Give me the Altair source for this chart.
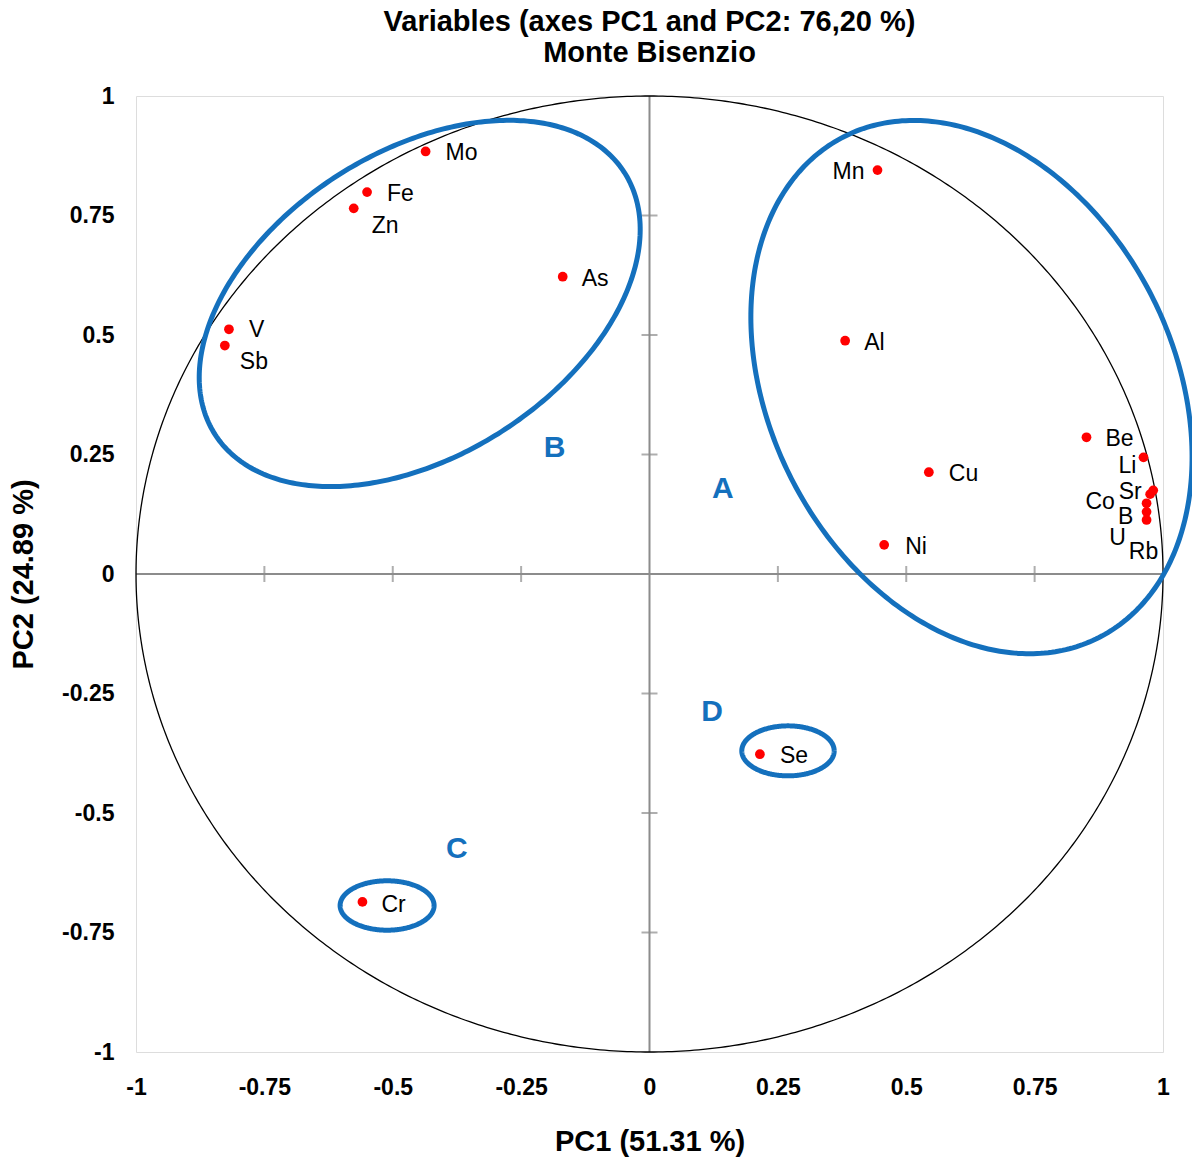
import altair as alt
import pandas as pd
import numpy as np

# ---------------- data ----------------
names = ["Mo", "Fe", "Zn", "As", "V", "Sb", "Mn", "Al", "Cu", "Ni",
         "Be", "Li", "Sr", "Co", "B", "U", "Rb", "Se", "Cr"]
pc1 = [-0.436, -0.550, -0.576, -0.169, -0.819, -0.827, 0.444, 0.381, 0.544, 0.457,
       0.851, 0.962, 0.981, 0.975, 0.968, 0.968, 0.968, 0.215, -0.559]
pc2 = [0.884, 0.799, 0.765, 0.622, 0.512, 0.478, 0.845, 0.488, 0.213, 0.061,
       0.286, 0.244, 0.175, 0.167, 0.148, 0.130, 0.113, -0.377, -0.686]

group_names = ["A", "B", "C", "D"]
group_x = [0.143, -0.185, -0.375, 0.122]
group_y = [0.178, 0.264, -0.575, -0.289]

tick_values = [-1, -0.75, -0.5, -0.25, 0, 0.25, 0.5, 0.75, 1]
inner_ticks = [-0.75, -0.5, -0.25, 0.25, 0.5, 0.75]

TITLE = ["Variables (axes PC1 and PC2: 76,20 %)", "Monte Bisenzio"]
X_TITLE = "PC1 (51.31 %)"
Y_TITLE = "PC2 (24.89 %)"

# ---------------- styling ----------------
W, H = 1027, 956
FONT = "Liberation Sans, Arial, Helvetica, sans-serif"
BLUE = "#1470bd"
GRAY = "#8c8c8c"

# label placement (pixel offsets, alignment)
label_style = {
    "Mo": (20, 2, "left"), "Fe": (20, 2, "left"), "Zn": (18, 18, "left"),
    "As": (19, 2, "left"), "V": (20, 1, "left"), "Sb": (15, 16, "left"),
    "Mn": (-13, 2, "right"), "Al": (19, 2, "left"), "Cu": (20, 2, "left"),
    "Ni": (21, 2, "left"), "Be": (19, 2, "left"), "Li": (-16, 9, "center"),
    "Sr": (-23, 2, "center"), "Co": (-50, 8, "center"), "B": (-21, 14, "center"),
    "U": (-29, 26, "center"), "Rb": (-3, 32, "center"), "Se": (20, 2, "left"),
    "Cr": (19, 3, "left"),
}

# ellipse outlines: centre (data units), semi-axes (px), rotation (deg, screen)
ellipse_params = {
    "A": (0.627, 0.391, 281, 202, 63.0),
    "B": (-0.4475, 0.566, 243, 152, -32.6),
    "C": (-0.511, -0.6935, 47, 24.7, 0.0),
    "D": (0.2697, -0.370, 46.2, 25, 0.0),
}

xscale = alt.Scale(domain=[-1, 1], nice=False, zero=False)
yscale = alt.Scale(domain=[-1, 1], nice=False, zero=False)

common_axis = dict(values=tick_values, grid=False, ticks=False, domain=False, tickSize=0,
                   labelFontSize=23, labelFont=FONT, labelFontWeight="bold",
                   labelColor="black", titleFont=FONT, titleFontSize=29,
                   titleFontWeight="bold", titleColor="black", titleBaseline="middle",
                   labelFlush=False, labelOverlap=False, labelExpr="'' + datum.value")
xaxis = alt.Axis(title=X_TITLE, labelPadding=24, titleY=89, **common_axis)
yaxis = alt.Axis(title=Y_TITLE, labelPadding=22, titleX=-113, **common_axis)


def X(field):
    return alt.X(field, type="quantitative", scale=xscale, axis=xaxis)


def Y(field):
    return alt.Y(field, type="quantitative", scale=yscale, axis=yaxis)


# ---------------- tables ----------------
pts = pd.DataFrame({"name": names, "pc1": pc1, "pc2": pc2})
groups = pd.DataFrame({"g": group_names, "gx": group_x, "gy": group_y})

t = np.linspace(0, 2 * np.pi, 721)
circle = pd.DataFrame({"cx": np.cos(t), "cy": np.sin(t), "i": np.arange(len(t))})

rows = []
for key, (cx, cy, a, b, ang) in ellipse_params.items():
    th = np.deg2rad(ang)
    for k, tt in enumerate(np.linspace(0, 2 * np.pi, 361)):
        dxp = a * np.cos(th) * np.cos(tt) - b * np.sin(th) * np.sin(tt)
        dyp = a * np.sin(th) * np.cos(tt) + b * np.cos(th) * np.sin(tt)
        rows.append({"e": key, "i": k, "ex": cx + dxp / (W / 2), "ey": cy - dyp / (H / 2)})
ell = pd.DataFrame(rows)

vline = pd.DataFrame({"x": [0.0], "y1": [-1.0], "y2": [1.0]})
hline = pd.DataFrame({"y": [0.0], "x1": [-1.0], "x2": [1.0]})
vt = pd.DataFrame({"x": [0.0] * len(inner_ticks), "y": inner_ticks})
ht = pd.DataFrame({"y": [0.0] * len(inner_ticks), "x": inner_ticks})

# ---------------- layers ----------------
vrule = alt.Chart(vline).mark_rule(color=GRAY, strokeWidth=2).encode(
    x=X("x"), y=Y("y1"), y2="y2")
hrule = alt.Chart(hline).mark_rule(color=GRAY, strokeWidth=2).encode(
    y=Y("y"), x=X("x1"), x2="x2")
vticks = alt.Chart(vt).mark_tick(orient="horizontal", size=16, thickness=2, color=GRAY).encode(
    x=X("x"), y=Y("y"))
hticks = alt.Chart(ht).mark_tick(orient="vertical", size=16, thickness=2, color=GRAY).encode(
    x=X("x"), y=Y("y"))

circ = alt.Chart(circle).mark_line(color="black", strokeWidth=1.3).encode(
    x=X("cx"), y=Y("cy"), order="i:Q")

ells = alt.Chart(ell).mark_line(color=BLUE, strokeWidth=5).encode(
    x=X("ex"), y=Y("ey"), detail="e:N", order="i:Q")

dots = alt.Chart(pts).mark_circle(color="#ff0000", size=95, opacity=1).encode(
    x=X("pc1"), y=Y("pc2"))

label_layers = []
for n in names:
    dx, dy, al = label_style[n]
    label_layers.append(
        alt.Chart(pts).transform_filter(alt.datum.name == n).mark_text(
            dx=dx, dy=dy, align=al, baseline="middle", font=FONT, fontSize=23, color="black"
        ).encode(x=X("pc1"), y=Y("pc2"), text="name:N")
    )

glabels = alt.Chart(groups).mark_text(
    font=FONT, fontSize=30, fontWeight="bold", color=BLUE, align="center", baseline="middle"
).encode(x=X("gx"), y=Y("gy"), text="g:N")

chart = alt.layer(
    vrule, hrule, vticks, hticks, circ, ells, dots, *label_layers, glabels
).properties(
    width=W, height=H,
    title=alt.TitleParams(TITLE, font=FONT, fontSize=29, fontWeight="bold", color="black",
                          anchor="middle", offset=17, lineHeight=31),
    padding={"left": 128, "top": 88, "right": 29, "bottom": 106},
    autosize=alt.AutoSizeParams(type="none"),
).configure_view(
    stroke=GRAY, strokeWidth=2
).configure(background="white")

chart.save("out.html", embed_options={"renderer": "svg", "actions": False})
